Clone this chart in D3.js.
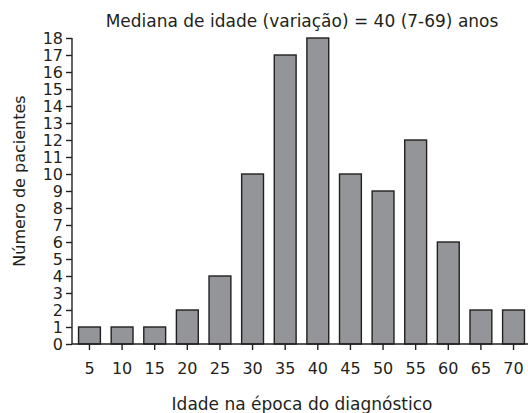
<!DOCTYPE html>
<html>
<head>
<meta charset="utf-8">
<script src="https://cdn.jsdelivr.net/npm/d3@7"></script>
<style>
  body { margin: 0; background: #fff; }
  text { font-family: "DejaVu Sans", sans-serif; fill: #231f20; }
</style>
</head>
<body>
<svg></svg>
<script>
// Dados do histograma
const idades = ["5", "10", "15", "20", "25", "30", "35", "40", "45", "50", "55", "60", "65", "70"];
const pacientes = [1, 1, 1, 2, 4, 10, 17, 18, 10, 9, 12, 6, 2, 2];
const yTicks = d3.range(0, 19);

const titulo = "Mediana de idade (variação) = 40 (7-69) anos";
const rotuloX = "Idade na época do diagnóstico";
const rotuloY = "Número de pacientes";

const width = 528, height = 413;
const margin = { top: 38, right: 0, bottom: 69, left: 72 };

const svg = d3.select("svg")
  .attr("width", width)
  .attr("height", height);

const data = idades.map((d, i) => ({ idade: d, n: pacientes[i] }));

// Escalas
const x = d3.scaleBand()
  .domain(idades)
  .range([margin.left + 1, width + 2])
  .paddingInner(0.33)
  .paddingOuter(0.17);

const y = d3.scaleLinear()
  .domain([0, 18])
  .range([height - margin.bottom, margin.top]);

// Barras
svg.append("g")
  .selectAll("rect")
  .data(data)
  .join("rect")
  .attr("x", d => x(d.idade))
  .attr("y", d => y(d.n))
  .attr("width", x.bandwidth())
  .attr("height", d => y(0) - y(d.n))
  .attr("fill", "#939598")
  .attr("stroke", "#231f20")
  .attr("stroke-width", 1.4);

// Eixo Y
const yAxis = svg.append("g")
  .attr("transform", `translate(${margin.left},0)`)
  .call(d3.axisLeft(y).tickValues(yTicks).tickSize(6).tickPadding(3));

// Eixo X
const xAxis = svg.append("g")
  .attr("transform", `translate(0,${y(0)})`)
  .call(d3.axisBottom(x).tickSize(6).tickPadding(13).tickSizeOuter(0));

xAxis.select(".domain").attr("d", `M${margin.left},0H${width}`);

[yAxis, xAxis].forEach(g => {
  g.selectAll(".domain, line").attr("stroke", "#231f20").attr("stroke-width", 1.4);
  g.selectAll("text").attr("font-size", 16).attr("font-family", "DejaVu Sans").attr("fill", "#231f20");
});
yAxis.select(".domain").attr("d", `M0,${y(18)}V${y(0)}`);

// Título
svg.append("text")
  .attr("x", 302)
  .attr("y", 27)
  .attr("text-anchor", "middle")
  .attr("font-size", 17)
  .text(titulo);

// Rótulo do eixo X
svg.append("text")
  .attr("x", 302)
  .attr("y", 410)
  .attr("text-anchor", "middle")
  .attr("font-size", 17)
  .text(rotuloX);

// Rótulo do eixo Y
svg.append("text")
  .attr("transform", "translate(25,181) rotate(-90)")
  .attr("text-anchor", "middle")
  .attr("font-size", 16)
  .text(rotuloY);
</script>
</body>
</html>
